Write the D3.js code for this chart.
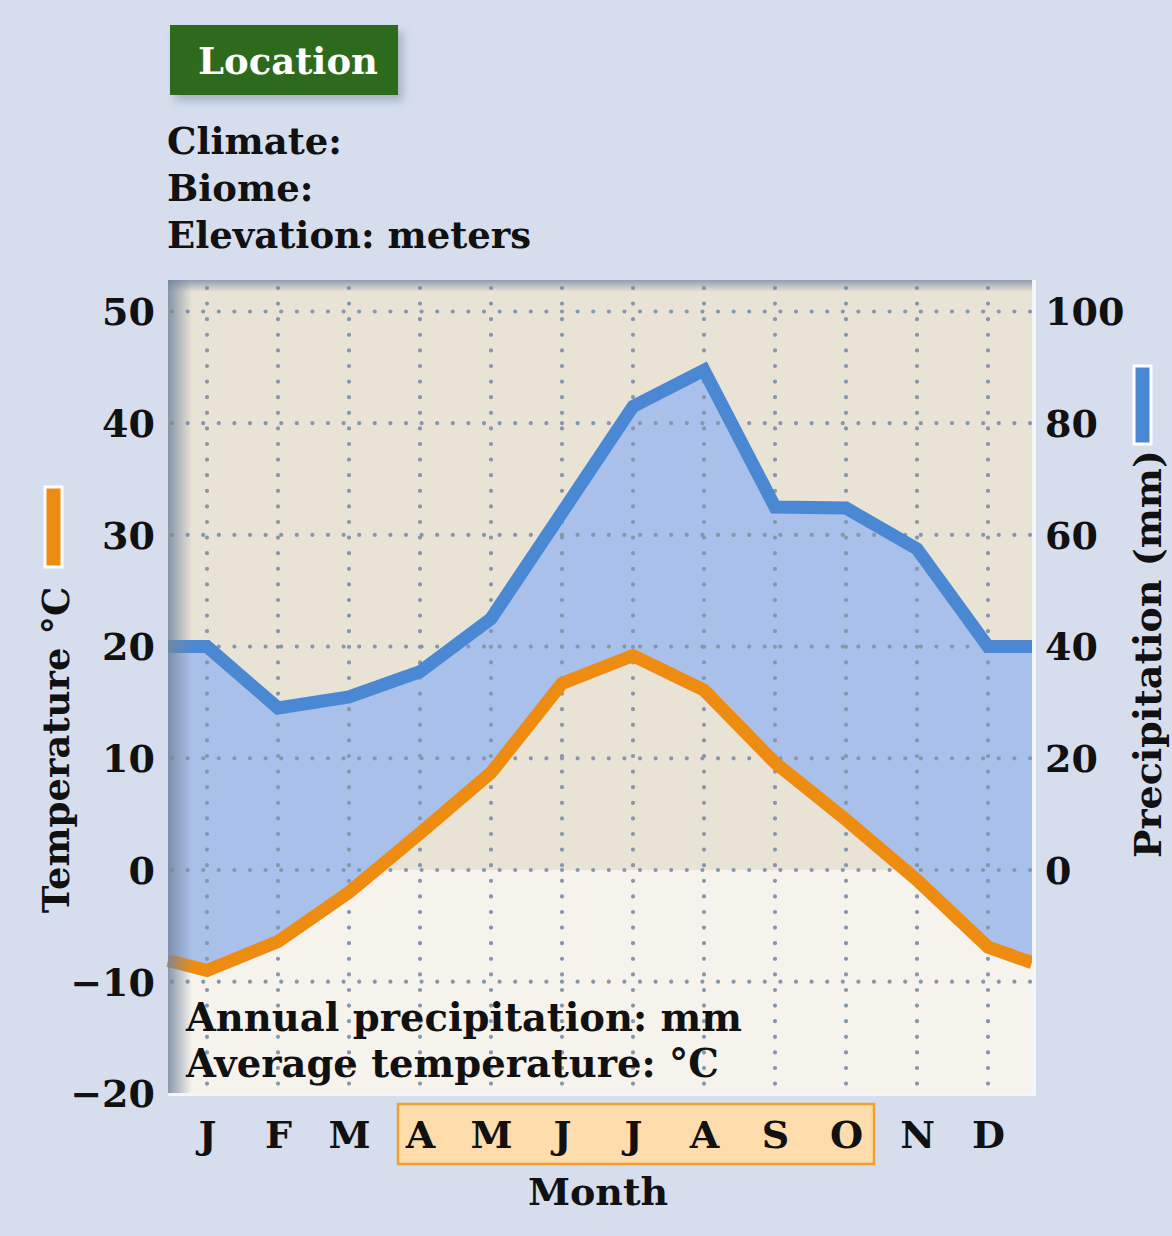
<!DOCTYPE html>
<html><head><meta charset="utf-8">
<script src="https://cdn.jsdelivr.net/npm/d3@7"></script>
<style>
html,body{margin:0;padding:0;background:#d6deee;}
text{font-family:"DejaVu Serif",serif;font-weight:bold;fill:#111;}
</style></head>
<body><svg id="c" width="1172" height="1236"></svg>
<script>
const months = ["J","F","M","A","M","J","J","A","S","O","N","D"];
const precip = [40, 29, 31, 35.5, 45, 64, 83, 89.5, 65, 64.8, 57.5, 40];
const temp = [-9, -6.4, -2, 3.3, 8.7, 16.7, 19.2, 16.1, 9.6, 4.5, -0.9, -6.9];
const precipEdges = [40, 40];
const tempEdges = [-8.1, -8.3];
const tempTicks = [50, 40, 30, 20, 10, 0, -10, -20];
const precipTicks = [100, 80, 60, 40, 20, 0];
const headerLines = ["Climate:", "Biome:", "Elevation: meters"];
const footerLines = ["Annual precipitation: mm", "Average temperature: \u00B0C"];

const FONT = "'DejaVu Serif',serif";
const svg = d3.select("#c");
const L = 168, R = 1032, T = 280, B = 1093;
const yT = d3.scaleLinear().domain([0, 50]).range([870, 311.5]);
const yP = d3.scaleLinear().domain([0, 100]).range([870, 311.5]);
const x = d3.scaleLinear().domain([0, 11]).range([207, 988]);
const xLeft = x.invert(L), xRight = x.invert(R);

const defs = svg.append("defs");
const gl = defs.append("linearGradient").attr("id","shL").attr("x1",0).attr("x2",1).attr("y1",0).attr("y2",0);
gl.append("stop").attr("offset",0).attr("stop-color","#74879f").attr("stop-opacity",0.85);
gl.append("stop").attr("offset",1).attr("stop-color","#74879f").attr("stop-opacity",0);
const gt = defs.append("linearGradient").attr("id","shT").attr("x1",0).attr("x2",0).attr("y1",0).attr("y2",1);
gt.append("stop").attr("offset",0).attr("stop-color","#74879f").attr("stop-opacity",0.75);
gt.append("stop").attr("offset",1).attr("stop-color","#74879f").attr("stop-opacity",0);
const f = defs.append("filter").attr("id","ds").attr("x","-20%").attr("y","-20%").attr("width","150%").attr("height","160%");
f.append("feDropShadow").attr("dx",5).attr("dy",6).attr("stdDeviation",5).attr("flood-color","#6a7a90").attr("flood-opacity",0.45);

// Location box
svg.append("rect").attr("x",170).attr("y",25).attr("width",228).attr("height",70).attr("fill","#2d6a1f").attr("filter","url(#ds)");
svg.append("text").attr("x",288).attr("y",74).attr("text-anchor","middle").style("fill","#fff").style("font-size","37px").text("Location");

svg.selectAll("text.hdr").data(headerLines).join("text").attr("class","hdr")
  .attr("x",167).attr("y",(d,i)=>154+i*47).style("font-size","37px").text(d=>d);

// plot backgrounds
svg.append("rect").attr("x",L).attr("y",T).attr("width",R-L).attr("height",yT(0)-T).attr("fill","#e9e3d6");
svg.append("rect").attr("x",L).attr("y",yT(0)).attr("width",R-L).attr("height",B-yT(0)).attr("fill","#f6f3ed");

// area between precip and temp
const pData = [[xLeft, precipEdges[0]], ...precip.map((v,i)=>[i,v]), [xRight, precipEdges[1]]];
const tData = [[xLeft, tempEdges[0]], ...temp.map((v,i)=>[i,v]), [xRight, tempEdges[1]]];
const areaPts = pData.map((d,i)=>({x:d[0], p:d[1], t:tData[i][1]}));
svg.append("path").datum(areaPts).attr("fill","#a9c0ea")
  .attr("d", d3.area().x(d=>x(d.x)).y0(d=>yT(d.t)).y1(d=>yP(d.p)));

// grid
const grid = svg.append("g").attr("stroke","#8797ab").attr("stroke-width",4.2).attr("stroke-linecap","round").attr("stroke-dasharray","0 15.6");
grid.selectAll("line.h").data(tempTicks.filter(t=>t>-20)).join("line").attr("class","h")
  .attr("x1",L+4).attr("x2",R).attr("y1",d=>yT(d)).attr("y2",d=>yT(d));
grid.selectAll("line.v").data(months).join("line").attr("class","v")
  .attr("x1",(d,i)=>x(i)).attr("x2",(d,i)=>x(i)).attr("y1",T+8).attr("y2",B);

// lines
svg.append("path").attr("fill","none").attr("stroke","#4b88d4").attr("stroke-width",13).attr("stroke-linejoin","miter")
  .attr("d", d3.line().x(d=>x(d[0])).y(d=>yP(d[1]))(pData));
svg.append("path").attr("fill","none").attr("stroke","#ee8c12").attr("stroke-width",13).attr("stroke-linejoin","miter")
  .attr("d", d3.line().x(d=>x(d[0])).y(d=>yT(d[1]))(tData));

// shadows on plot frame
svg.append("rect").attr("x",L).attr("y",T).attr("width",24).attr("height",B-T).attr("fill","url(#shL)");
svg.append("rect").attr("x",L).attr("y",T).attr("width",R-L).attr("height",12).attr("fill","url(#shT)");
svg.append("rect").attr("x",R).attr("y",T).attr("width",4).attr("height",B-T).attr("fill","#f4f6fa");
svg.append("rect").attr("x",L).attr("y",B).attr("width",R-L+4).attr("height",3).attr("fill","#f4f6fa");

// axes
const axL = svg.append("g").attr("transform",`translate(${L-10},0)`)
  .call(d3.axisLeft(yT).tickValues(tempTicks).tickSize(0).tickFormat(d=>d<0?"\u2212"+Math.abs(d):d));
axL.select(".domain").remove();
axL.selectAll("text").style("font-size","38px").style("font-family",FONT).style("font-weight","bold").attr("fill","#111").attr("dy","0.35em");

const axR = svg.append("g").attr("transform",`translate(${R+10},0)`)
  .call(d3.axisRight(yP).tickValues(precipTicks).tickSize(0));
axR.select(".domain").remove();
axR.selectAll("text").style("font-size","38px").style("font-family",FONT).style("font-weight","bold").attr("fill","#111").attr("dy","0.35em");

// footer text inside plot
svg.selectAll("text.ftr").data(footerLines).join("text").attr("class","ftr")
  .attr("x",186).attr("y",(d,i)=>1031+i*46).style("font-size","38.5px").text(d=>d);

// month box
svg.append("rect").attr("x",398).attr("y",1104).attr("width",476).attr("height",60).attr("fill","#fedcac").attr("stroke","#f0a02e").attr("stroke-width",2.5);
const axB = svg.append("g").attr("transform",`translate(0,${B})`)
  .call(d3.axisBottom(x).tickValues(d3.range(12)).tickSize(0).tickFormat(i=>months[i]));
axB.select(".domain").remove();
axB.selectAll("text").style("font-size","38px").style("font-family",FONT).style("font-weight","bold").attr("fill","#111").attr("dy",0).attr("y",55);

svg.append("text").attr("x",598).attr("y",1205).attr("text-anchor","middle").style("font-size","38px").text("Month");

// axis titles + legend bars
svg.append("rect").attr("x",45).attr("y",487).attr("width",17).attr("height",80).attr("fill","#ee8c12").attr("stroke","#fff").attr("stroke-width",3);
svg.append("text").attr("transform","translate(56,750) rotate(-90)").attr("text-anchor","middle").attr("dy","0.35em").style("font-size","37px").text("Temperature \u00B0C");
svg.append("rect").attr("x",1134).attr("y",366).attr("width",17).attr("height",78).attr("fill","#4b88d4").attr("stroke","#fff").attr("stroke-width",3);
svg.append("text").attr("transform","translate(1148,654) rotate(-90)").attr("text-anchor","middle").attr("dy","0.35em").style("font-size","38px").text("Precipitation (mm)");
</script></body></html>
